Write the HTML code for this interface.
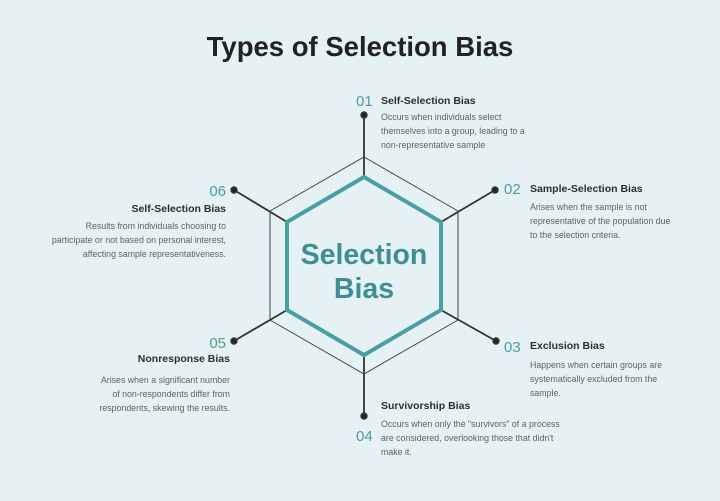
<!DOCTYPE html>
<html><head><meta charset="utf-8"><style>
html,body{margin:0;padding:0;background:#e5f1f3;}
svg{display:block;}
text{font-family:"Liberation Sans",sans-serif;}
.n{fill:#4a9ea6;font-size:15px;}
.t{fill:#2b2f33;font-size:10.5px;font-weight:bold;}
.b{fill:#5e6266;font-size:8.8px;}
</style></head><body>
<svg width="720" height="501" viewBox="0 0 720 501">
<rect width="720" height="501" fill="#e5f1f3"/>
<text x="360" y="56" text-anchor="middle" font-size="27.5" font-weight="bold" fill="#222">Types of Selection Bias</text>
<g stroke="#333" stroke-width="1.8" fill="#222">
<line x1="364" y1="115" x2="364" y2="177"/><circle cx="364" cy="115" r="2.8"/>
<line x1="495" y1="190" x2="441" y2="222"/><circle cx="495" cy="190" r="2.8"/>
<line x1="496" y1="341" x2="441" y2="310"/><circle cx="496" cy="341" r="2.8"/>
<line x1="364" y1="416" x2="364" y2="355"/><circle cx="364" cy="416" r="2.8"/>
<line x1="234" y1="190" x2="287" y2="222"/><circle cx="234" cy="190" r="2.8"/>
<line x1="234" y1="341" x2="287" y2="310"/><circle cx="234" cy="341" r="2.8"/>
</g>
<polygon points="364,157 458,211 458,320 364,374 270,320 270,211" fill="none" stroke="#444" stroke-width="1"/>
<polygon points="364,177 441,222 441,310 364,355 287,310 287,222" fill="#e5f1f3" stroke="#4a9ea6" stroke-width="4"/>
<text x="364" y="264" text-anchor="middle" font-size="28.5" font-weight="bold" fill="#3f8e95">Selection</text>
<text x="364" y="298" text-anchor="middle" font-size="28.5" font-weight="bold" fill="#3f8e95">Bias</text>
<text class="n" x="356" y="106">01</text>
<text class="t" x="381" y="104">Self-Selection Bias</text>
<text class="b" x="381" y="120">Occurs when individuals select</text>
<text class="b" x="381" y="134">themselves into a group, leading to a</text>
<text class="b" x="381" y="148">non-representative sample</text>
<text class="n" x="504" y="194">02</text>
<text class="t" x="530" y="192">Sample-Selection Bias</text>
<text class="b" x="530" y="210">Arises when the sample is not</text>
<text class="b" x="530" y="224">representative of the population due</text>
<text class="b" x="530" y="238">to the selection criteria.</text>
<text class="n" x="504" y="352">03</text>
<text class="t" x="530" y="349">Exclusion Bias</text>
<text class="b" x="530" y="368">Happens when certain groups are</text>
<text class="b" x="530" y="382">systematically excluded from the</text>
<text class="b" x="530" y="396">sample.</text>
<text class="n" x="356" y="441">04</text>
<text class="t" x="381" y="409">Survivorship Bias</text>
<text class="b" x="381" y="427">Occurs when only the "survivors" of a process</text>
<text class="b" x="381" y="441">are considered, overlooking those that didn't</text>
<text class="b" x="381" y="455">make it.</text>
<text class="n" x="226" y="196" text-anchor="end">06</text>
<text class="t" x="226" y="212" text-anchor="end">Self-Selection Bias</text>
<text class="b" x="226" y="229" text-anchor="end">Results from individuals choosing to</text>
<text class="b" x="226" y="243" text-anchor="end">participate or not based on personal interest,</text>
<text class="b" x="226" y="257" text-anchor="end">affecting sample representativeness.</text>
<text class="n" x="226" y="348" text-anchor="end">05</text>
<text class="t" x="230" y="362" text-anchor="end">Nonresponse Bias</text>
<text class="b" x="230" y="383" text-anchor="end">Arises when a significant number</text>
<text class="b" x="230" y="397" text-anchor="end">of non-respondents differ from</text>
<text class="b" x="230" y="411" text-anchor="end">respondents, skewing the results.</text>
</svg>
</body></html>
